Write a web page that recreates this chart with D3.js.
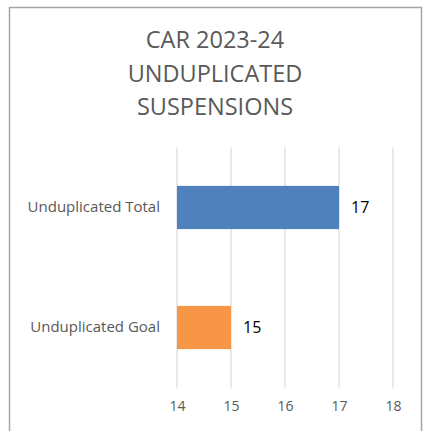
<!DOCTYPE html>
<html>
<head>
<meta charset="utf-8">
<script src="https://cdn.jsdelivr.net/npm/d3@7"></script>
<style>
  body { margin: 0; background: #fff; }
  svg { display: block; }
</style>
</head>
<body>
<svg width="427" height="431"></svg>
<script>
// chart data
var categories = ["Unduplicated Total", "Unduplicated Goal"];
var values = [17, 15];
var barColors = ["#4f81bd", "#f79646"];
var tickValues = [14, 15, 16, 17, 18];
var titleLines = ["CAR 2023-24", "UNDUPLICATED", "SUSPENSIONS"];

var svg = d3.select("svg");

// outer frame (no bottom edge visible)
svg.append("path")
    .attr("d", "M9.5,431 V7.5 H421.5 V431")
    .attr("fill", "none")
    .attr("stroke", "#a6a6a6")
    .attr("stroke-width", 1.5);

// title
svg.append("g").selectAll("text")
    .data(titleLines)
    .enter().append("text")
    .attr("x", 215)
    .attr("y", function (d, i) { return 48 + i * 33.5; })
    .attr("text-anchor", "middle")
    .attr("font-family", "Open Sans, sans-serif")
    .attr("font-size", "23.5px")
    .attr("fill", "#595959")
    .text(function (d) { return d; });

// scales
var xScale = d3.scaleLinear()
    .domain([14, 18])
    .range([177, 393]);

var yScale = d3.scaleBand()
    .domain(categories)
    .range([147.5, 387.5])
    .paddingInner(0.64)
    .paddingOuter(0.32);

// gridlines
svg.append("g").selectAll("line")
    .data(tickValues)
    .enter().append("line")
    .attr("x1", function (d) { return xScale(d); })
    .attr("x2", function (d) { return xScale(d); })
    .attr("y1", 147.5)
    .attr("y2", 387.5)
    .attr("stroke", "#d9d9d9")
    .attr("stroke-width", 1.2);

// x axis (labels only)
var xAxis = d3.axisBottom(xScale)
    .tickValues(tickValues)
    .tickFormat(d3.format("d"))
    .tickSize(0)
    .tickPadding(0);

svg.append("g")
    .attr("class", "x-axis")
    .attr("transform", "translate(0,401)")
    .call(xAxis)
    .call(function (g) { g.select(".domain").remove(); })
    .selectAll("text")
    .attr("font-family", "Open Sans, sans-serif")
    .attr("font-size", "14px")
    .attr("fill", "#595959")
    .attr("dy", "0.71em");

// y axis (category labels)
var yAxis = d3.axisLeft(yScale)
    .tickSize(0)
    .tickPadding(0);

svg.append("g")
    .attr("class", "y-axis")
    .attr("transform", "translate(160,0)")
    .call(yAxis)
    .call(function (g) { g.select(".domain").remove(); })
    .selectAll("text")
    .attr("font-family", "Open Sans, sans-serif")
    .attr("font-size", "15px")
    .attr("fill", "#595959");

// bars
svg.append("g").selectAll("rect")
    .data(values)
    .enter().append("rect")
    .attr("x", xScale(14))
    .attr("y", function (d, i) { return yScale(categories[i]); })
    .attr("width", function (d) { return xScale(d) - xScale(14); })
    .attr("height", yScale.bandwidth())
    .attr("fill", function (d, i) { return barColors[i]; });

// value labels
svg.append("g").selectAll("text")
    .data(values)
    .enter().append("text")
    .attr("x", function (d) { return xScale(d) + 12; })
    .attr("y", function (d, i) { return yScale(categories[i]) + yScale.bandwidth() / 2; })
    .attr("dy", "0.35em")
    .attr("font-family", "Open Sans, sans-serif")
    .attr("font-size", "16px")
    .attr("fill", "#000")
    .text(function (d) { return d; });
</script>
</body>
</html>
